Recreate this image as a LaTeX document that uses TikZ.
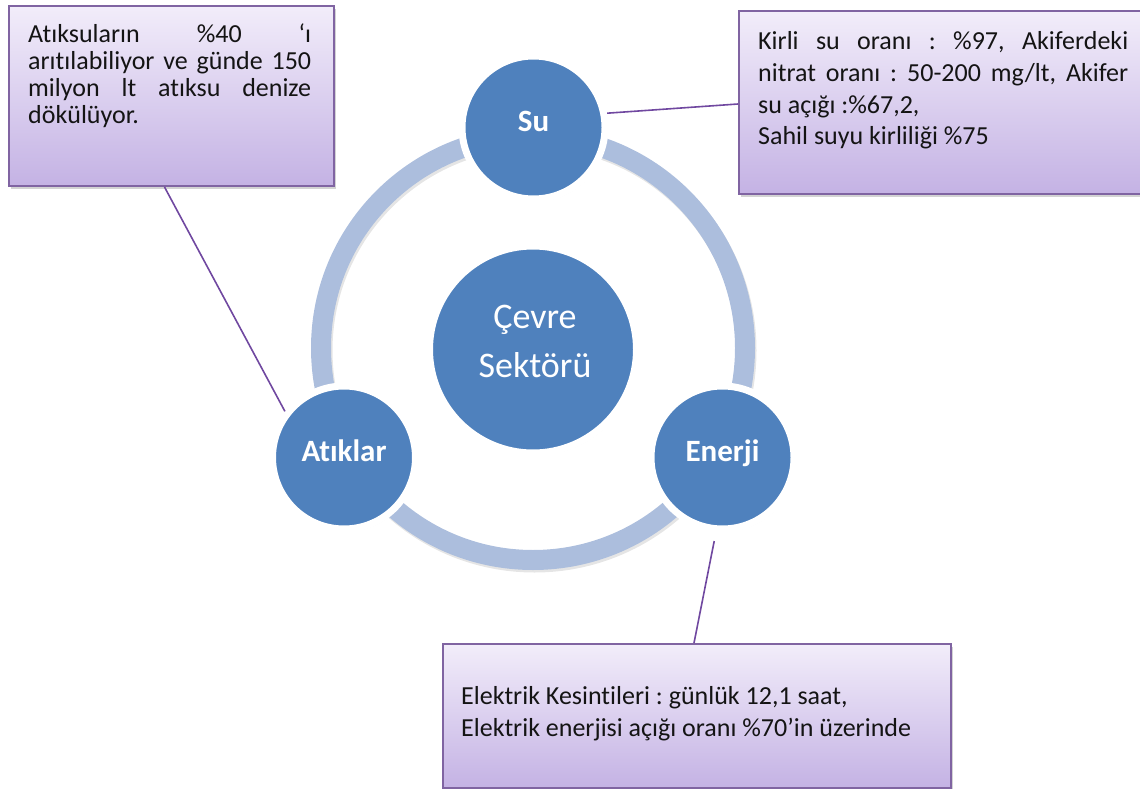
\documentclass[tikz,border=0pt]{standalone}
\usepackage{fontspec}
\setmainfont{Carlito}[Ligatures=NoCommon]
\frenchspacing
\usetikzlibrary{shadows,calc}
\definecolor{nodeblue}{RGB}{79,129,189}
\definecolor{ringblue}{RGB}{172,190,221}
\definecolor{boxborder}{RGB}{128,100,162}
\definecolor{boxtop}{RGB}{242,237,250}
\definecolor{boxbottom}{RGB}{196,178,228}
\definecolor{linkpurple}{RGB}{112,72,160}
\definecolor{bodytext}{RGB}{20,20,20}
\begin{document}
\frenchspacing
\begin{tikzpicture}[x=1pt,y=1pt,
  sat/.style={circle, fill=nodeblue, draw=white, line width=7pt, minimum size=143pt, inner sep=0pt,
    text=white, font=\fontsize{31}{36}\selectfont\bfseries, text height=8pt, text depth=0pt,
    drop shadow={opacity=0.22, shadow xshift=1.5pt, shadow yshift=-2.5pt}},
  hub/.style={sat, minimum size=207pt},
  hubtext/.style={anchor=base, inner sep=0pt, align=center, text=white, font=\fontsize{36}{49}\selectfont},
  ring/.style={draw=ringblue, line width=20pt},
  infobox/.style={rectangle, draw=boxborder, line width=2pt, top color=boxtop, bottom color=boxbottom,
    inner sep=0pt, anchor=north west,
    drop shadow={opacity=0.35, shadow xshift=2pt, shadow yshift=-3pt}},
  infotext/.style={anchor=base west, inner sep=0pt, align=left, text=bodytext},
  link/.style={draw=linkpurple, line width=1.6pt}]
\useasboundingbox (0,0) rectangle (1140,-789);
\clip (0,0) rectangle (1140,-789);

% ring
\coordinate (C) at (533,-348);
\draw[line width=20pt, black, opacity=0.10] ([shift={(1.5,-2.5)}]C) circle (212pt);
\draw[ring] (C) circle (212pt);

% circles
\node[hub] (hub) at (533,-349.5) {};
\node[hubtext] (hubt) at (535,-377) {Çevre\\Sektörü};
\node[sat] (su) at (533.5,-127.5) {Su};
\node[sat] (atik) at (344,-457.5) {Atıklar};
\node[sat] (ener) at (722.5,-457.5) {Enerji};

% boxes
\node[infobox, minimum width=325pt, minimum height=180pt] (b1) at (8,-5) {};
\node[infobox, minimum width=412pt, minimum height=183pt] (b2) at (738,-10) {};
\node[infobox, minimum width=508pt, minimum height=144pt] (b3) at (442,-643) {};

% texts (anchored at the baseline of the last line)
\node[infotext, font=\fontsize{26}{27}\selectfont] (t1) at (28,-124)
  {\makebox[283pt][s]{Atıksuların \%40 ‘ı}\\
   \makebox[283pt][s]{arıtılabiliyor ve günde 150}\\
   \makebox[283pt][s]{milyon lt atıksu denize}\\
   dökülüyor.};
\node[infotext, font=\fontsize{26}{31.7}\selectfont] (t2) at (758,-145)
  {\makebox[370pt][s]{Kirli su oranı : \%97, Akiferdeki}\\
   \makebox[370pt][s]{nitrat oranı : 50-200 mg/lt, Akifer}\\
   su açığı :\%67,2,\\
   Sahil suyu kirliliği \%75};
\node[infotext, font=\fontsize{26}{32}\selectfont] (t3) at (461,-736)
  {Elektrik Kesintileri : günlük 12,1 saat,\\
   Elektrik enerjisi açığı oranı \%70’in üzerinde};

% connectors
\draw[link] ([xshift=-7pt]b1.south) -- (atik.142.5);
\draw[link] (su.11.75) -- ([yshift=-1.5pt]b2.west);
\draw[link, shorten <=9pt] (ener.265) -- ([xshift=-3pt]b3.north);
\end{tikzpicture}
\end{document}
